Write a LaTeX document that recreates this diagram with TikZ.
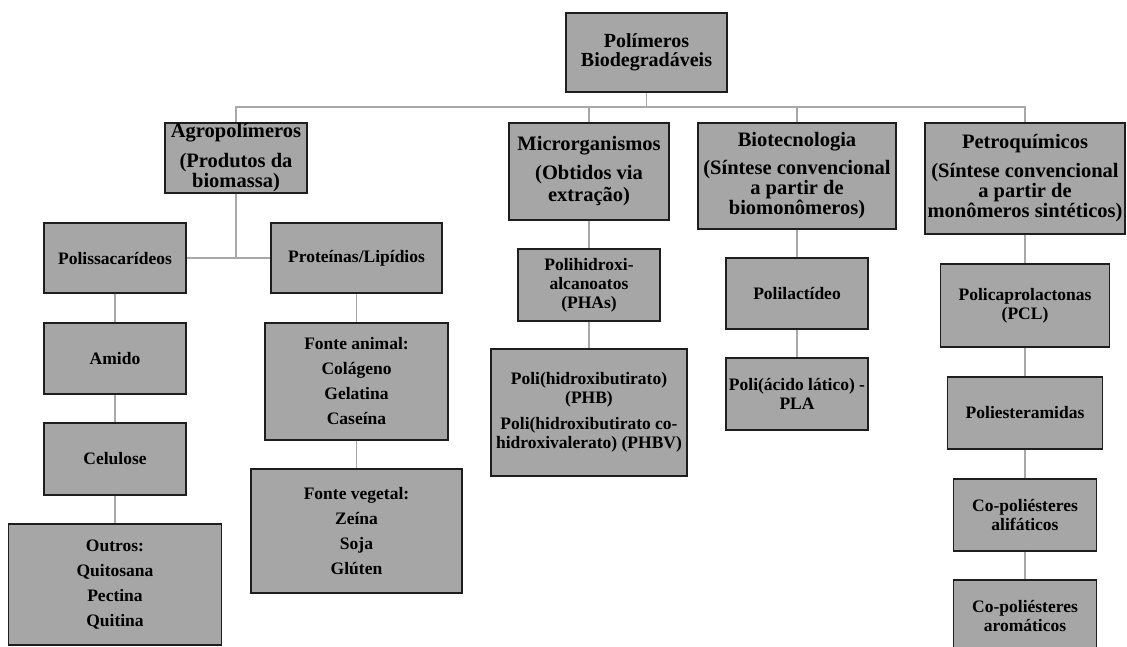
\documentclass[tikz,border=0pt]{standalone}
\usepackage{fontspec}
\setmainfont{Liberation Serif}
\usepackage{tikz}
\usetikzlibrary{positioning}
\definecolor{boxfill}{HTML}{A6A6A6}
\definecolor{boxline}{HTML}{1E1E1E}
\definecolor{wire}{HTML}{A8A8A8}
\tikzset{
  cell/.style={draw=boxline,fill=boxfill,line width=1.4pt,inner sep=0pt,align=center,
    font=\bfseries\fontsize{17.5}{19}\selectfont},
  head/.style={cell,font=\bfseries\fontsize{20.5}{20}\selectfont},
  list/.style={cell,font=\bfseries\fontsize{17.5}{25}\selectfont},
  link/.style={draw=wire,line width=1.3pt}
}
\begin{document}
\begin{tikzpicture}[x=1pt,y=-1pt]
  \useasboundingbox (0,0) rectangle (1127,646);
  \node[head,font=\bfseries\fontsize{20}{19}\selectfont,minimum width=161pt,minimum height=79pt] (root) at (646.5,52.5) {Polímeros\\Biodegradáveis};
  \node[head,minimum width=142pt,minimum height=70pt] (agro) at (236,158) {Agropolímeros\\[10pt](Produtos da\\biomassa)};
  \node[head,minimum width=160pt,minimum height=97pt] (micro) at (589,171.5) {Microrganismos\\[9pt](Obtidos via\\[2pt]extração)};
  \node[head,minimum width=198pt,minimum height=106pt] (biotec) at (797,176) {Biotecnologia\\[8pt](Síntese convencional\\a partir de\\biomonômeros)};
  \node[head,minimum width=200pt,minimum height=111pt] (petro) at (1025,178.5) {Petroquímicos\\[9pt](Síntese convencional\\a partir de\\monômeros sintéticos)};
  \node[cell,minimum width=142pt,minimum height=70pt] (polis) at (115,258) {Polissacarídeos};
  \node[cell,minimum width=171pt,minimum height=70pt] (prot) at (356.5,258) {Proteínas/Lipídios};
  \node[cell,minimum width=142pt,minimum height=71pt] (amido) at (115,358.5) {Amido};
  \node[cell,minimum width=142pt,minimum height=72pt] (celulose) at (115,459) {Celulose};
  \node[list,minimum width=213pt,minimum height=121pt] (outros) at (115,584.5) {Outros:\\Quitosana\\Pectina\\Quitina};
  \node[list,minimum width=183pt,minimum height=117pt] (animal) at (356.5,381.5) {Fonte animal:\\Colágeno\\Gelatina\\Caseína};
  \node[list,minimum width=211pt,minimum height=124pt] (vegetal) at (356.5,531) {Fonte vegetal:\\Zeína\\Soja\\Glúten};
  \node[cell,minimum width=142pt,minimum height=72pt] (phas) at (589,285) {Polihidroxi-\\alcanoatos\\(PHAs)};
  \node[cell,minimum width=196pt,minimum height=127pt] (phb) at (589,412.5) {Poli(hidroxibutirato)\\(PHB)\\[7pt]Poli(hidroxibutirato co-\\hidroxivalerato) (PHBV)};
  \node[cell,minimum width=142pt,minimum height=71pt] (pll) at (797,293.5) {Polilactídeo};
  \node[cell,minimum width=142pt,minimum height=72pt] (pla) at (797,394) {Poli(ácido lático) -\\PLA};
  \node[cell,minimum width=169pt,minimum height=83pt] (pcl) at (1025,305.5) {Policaprolactonas\\(PCL)};
  \node[cell,minimum width=155pt,minimum height=72pt] (pea) at (1025,413) {Poliesteramidas};
  \node[cell,minimum width=143pt,minimum height=72pt] (coal) at (1025,515) {Co-poliésteres\\alifáticos};
  \node[cell,minimum width=143pt,minimum height=72pt] (coar) at (1025,616) {Co-poliésteres\\aromáticos};
  \coordinate (bus) at (646.5,107);
  \draw[link] (root) -- (bus);
  \foreach \n in {agro,micro,biotec,petro} \draw[link] (bus) -| (\n.north);
  \draw[link] (agro.south) |- (polis.east);
  \draw[link] (agro.south) |- (prot.west);
  \foreach \a/\b in {polis/amido,amido/celulose,celulose/outros,prot/animal,animal/vegetal,micro/phas,phas/phb,biotec/pll,pll/pla,petro/pcl,pcl/pea,pea/coal,coal/coar}
    \draw[link] (\a) -- (\b);
\end{tikzpicture}
\end{document}
